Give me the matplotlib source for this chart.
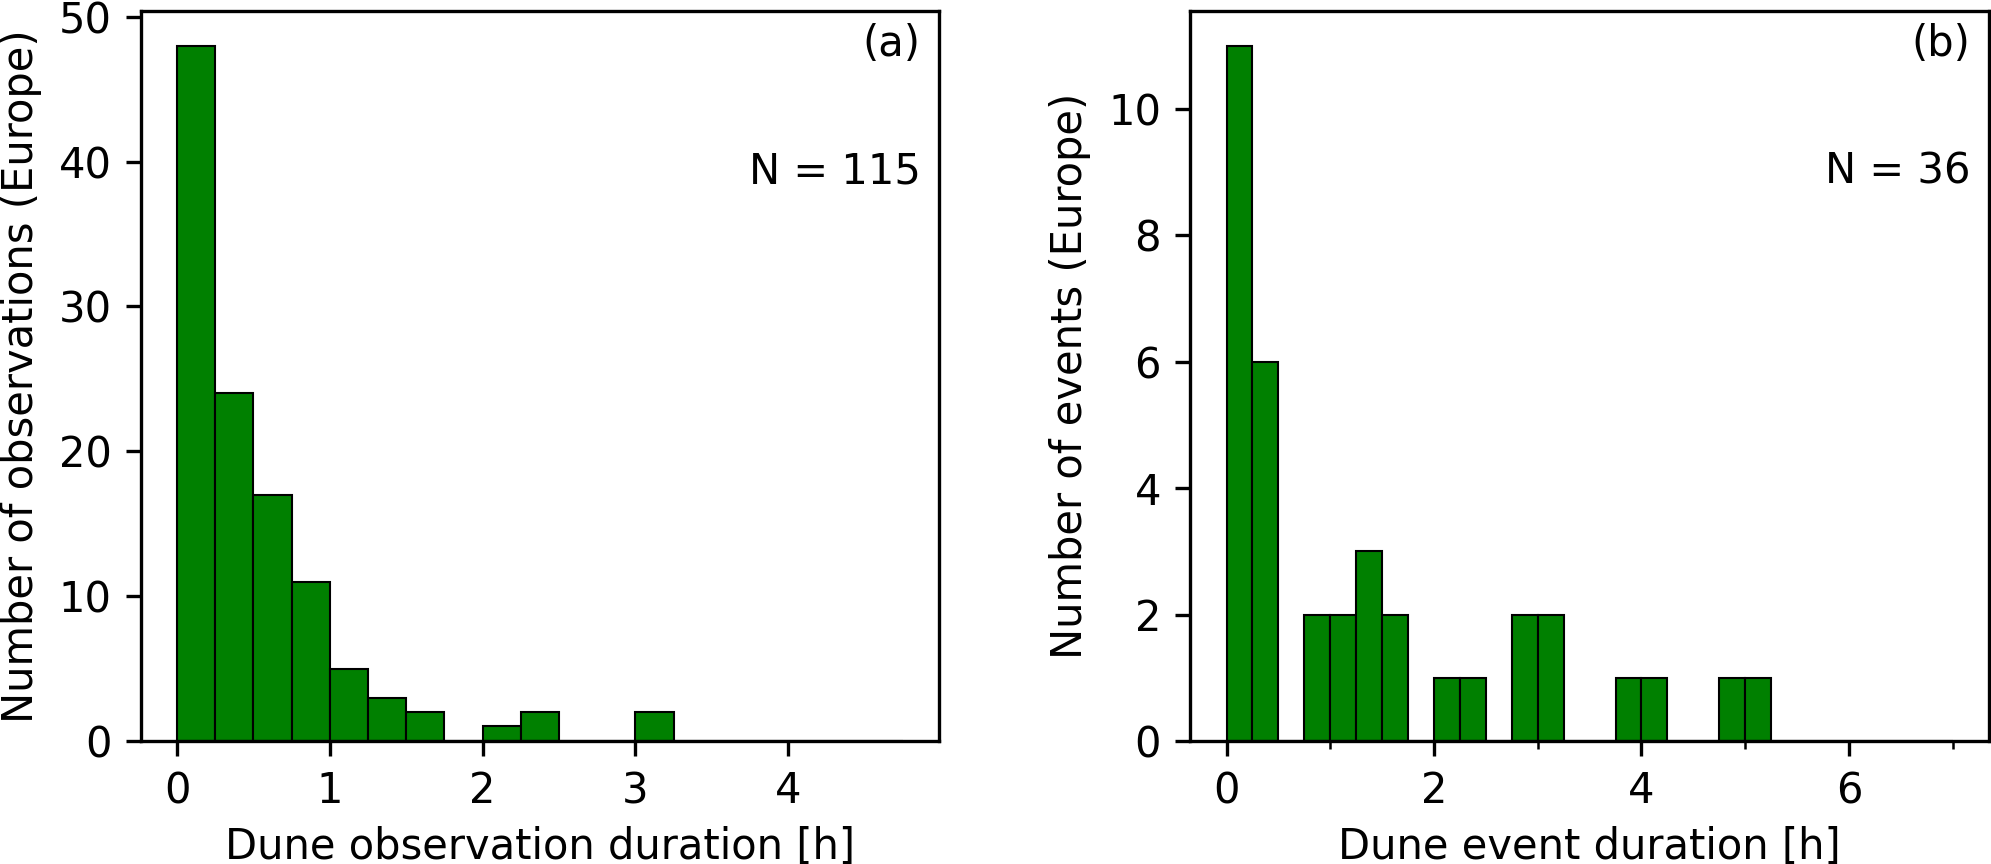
import numpy as np
import matplotlib
matplotlib.use("Agg")
import matplotlib.pyplot as plt
from matplotlib.ticker import MultipleLocator

# ---- data ----
bin_width = 0.25
obs_counts = [48, 24, 17, 11, 5, 3, 2, 0, 1, 2, 0, 0, 2, 0, 0, 0, 0, 0, 0]
event_counts = [11, 6, 0, 2, 2, 3, 2, 0, 1, 1, 0, 2, 2, 0, 0, 1, 1, 0, 0, 1, 1,
                0, 0, 0, 0, 0, 0, 0]
obs_label = "N = 115"
event_label = "N = 36"
panel_labels = ["(a)", "(b)"]
xlabels = ["Dune observation duration [h]", "Dune event duration [h]"]
ylabels = ["Number of observations (Europe)", "Number of events (Europe)"]

plt.rcParams["font.family"] = ["DejaVu Sans"]
plt.rcParams["font.size"] = 10

fig = plt.figure(figsize=(1991 / 300, 864 / 300), dpi=300)
axL = fig.add_axes([0.0707, 0.1424, 0.4010, 0.8449])
axR = fig.add_axes([0.5978, 0.1424, 0.4012, 0.8449])


def draw(ax, counts, ntext, ptext, xl, yl):
    counts = np.asarray(counts, dtype=float)
    edges = np.arange(len(counts) + 1) * bin_width
    centers = 0.5 * (edges[:-1] + edges[1:])
    ax.hist(centers, bins=edges, weights=counts, color="green",
            edgecolor="black", linewidth=0.5)
    ax.set_xlabel(xl, labelpad=3.2)
    ax.set_ylabel(yl)
    ax.text(0.977, 0.955, ptext, transform=ax.transAxes, ha="right", va="center")
    ax.text(0.977, 0.780, ntext, transform=ax.transAxes, ha="right", va="center")


draw(axL, obs_counts, obs_label, panel_labels[0], xlabels[0], ylabels[0])
draw(axR, event_counts, event_label, panel_labels[1], xlabels[1], ylabels[1])
axL.xaxis.set_major_locator(MultipleLocator(1))
axR.xaxis.set_major_locator(MultipleLocator(2))
axR.xaxis.set_minor_locator(MultipleLocator(1))

fig.savefig("out.png", dpi=300)
